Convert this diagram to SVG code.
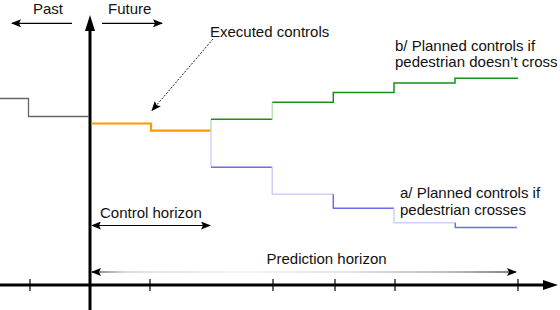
<svg xmlns="http://www.w3.org/2000/svg" width="560" height="310" viewBox="0 0 560 310">
<style>
text{font-family:"Liberation Sans",Arial,sans-serif;font-size:15px;fill:#111}
.ax{stroke:#000;stroke-width:3;fill:none}
.tk{stroke:#000;stroke-width:1.2}
.ar{stroke:#000;stroke-width:1.2;fill:none}
.st{fill:none;stroke-linejoin:miter;stroke-linecap:butt}
</style>
<defs>
<marker id="ah" viewBox="0 0 10 8" refX="9" refY="4" markerWidth="10" markerHeight="8" markerUnits="userSpaceOnUse" orient="auto-start-reverse">
<path d="M0,0 L10,4 L0,8 L2,4 Z" fill="#000"/>
</marker>
<linearGradient id="pg" gradientUnits="userSpaceOnUse" x1="92" y1="0" x2="516" y2="0">
<stop offset="0" stop-color="#000"/>
<stop offset="0.08" stop-color="#bbb"/>
<stop offset="0.35" stop-color="#eee"/>
<stop offset="0.6" stop-color="#ccc"/>
<stop offset="0.85" stop-color="#777"/>
<stop offset="1" stop-color="#000"/>
</linearGradient>
</defs>
<g id="axes">
<line class="ax" x1="90" y1="310" x2="90" y2="29"/>
<polygon points="90,15 85,31 95,31" fill="#000"/>
<line class="ax" x1="0" y1="285" x2="544" y2="285"/>
<polygon points="558,285 543,280 543,290" fill="#000"/>
<g class="tk">
<line x1="30" y1="279" x2="30" y2="291"/>
<line x1="150" y1="279" x2="150" y2="291"/>
<line x1="273" y1="279" x2="273" y2="291"/>
<line x1="335" y1="279" x2="335" y2="291"/>
<line x1="395" y1="279" x2="395" y2="291"/>
<line x1="518" y1="279" x2="518" y2="291"/>
</g>
</g>
<g id="past-line">
<path class="st" d="M0,98.5 H28.5 V116.5 H89" stroke="#666" stroke-width="1.3"/>
</g>
<g id="executed">
<path class="st" d="M91,123.5 H151 V130.7 H211" stroke="#f90" stroke-width="2.2"/>
</g>
<g id="plan-b">
<path class="st" d="M211,130.7 V119.3" stroke="#b8e0b8" stroke-width="1.5"/>
<path class="st" d="M211,119.3 H272.3" stroke="#1a8f1a" stroke-width="1.5"/>
<path class="st" d="M272.3,119.3 V102.3" stroke="#b8e0b8" stroke-width="1.5"/>
<path class="st" d="M272.3,102.3 H333.3 V92.5 H394 V83 H455 V78.3 H518" stroke="#1a8f1a" stroke-width="1.5"/>
</g>
<g id="plan-a">
<path class="st" d="M211,131 V167.3" stroke="#d0d0fa" stroke-width="1.5"/>
<path class="st" d="M211,167.3 H272.3" stroke="#6b6be8" stroke-width="1.5"/>
<path class="st" d="M272.3,167.3 V194.3 H333.3" stroke="#cfcff9" stroke-width="1.5"/>
<path class="st" d="M333.3,194.3 V208.3 H394" stroke="#6b6be8" stroke-width="1.5"/>
<path class="st" d="M394,208.3 V222.7 H455.3" stroke="#cfcff9" stroke-width="1.5"/>
<path class="st" d="M455.3,222.7 V227.5 H517" stroke="#6b6be8" stroke-width="1.5"/>
</g>
<g id="connectors">
<line class="ar" x1="72" y1="23.3" x2="12" y2="23.3" marker-end="url(#ah)"/>
<line class="ar" x1="102" y1="23.3" x2="162" y2="23.3" marker-end="url(#ah)"/>
<line x1="213" y1="39" x2="152" y2="110.5" stroke="#222" stroke-width="1" stroke-dasharray="2,1.5" marker-end="url(#ah)"/>
<line class="ar" x1="92" y1="225.5" x2="210" y2="225.5" marker-start="url(#ah)" marker-end="url(#ah)"/>
<line x1="92" y1="272" x2="516" y2="272" stroke="url(#pg)" stroke-width="1.2" marker-start="url(#ah)" marker-end="url(#ah)"/>
</g>
<g id="labels">
<text x="33" y="13.8">Past</text>
<text x="108" y="13.8">Future</text>
<text x="210" y="37">Executed controls</text>
<text x="395" y="51">b/ Planned controls if</text>
<text x="395" y="66.7">pedestrian doesn’t cross</text>
<text x="400" y="198.3">a/ Planned controls if</text>
<text x="400" y="215">pedestrian crosses</text>
<text x="100" y="218">Control horizon</text>
<text x="266.5" y="264.3">Prediction horizon</text>
</g>
</svg>
